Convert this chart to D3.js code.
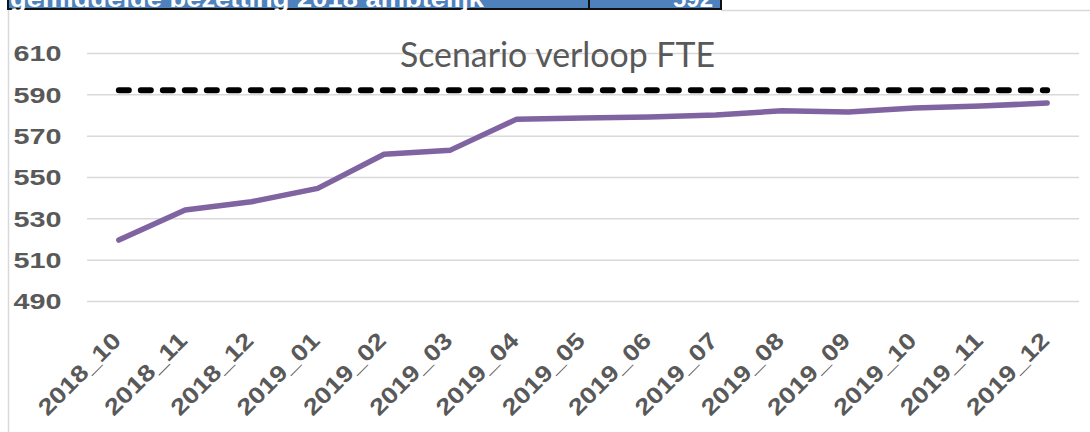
<!DOCTYPE html>
<html>
<head>
<meta charset="utf-8">
<script src="https://cdn.jsdelivr.net/npm/d3@7"></script>
<style>
  body { margin: 0; background: white; }
  svg { display: block; }
</style>
</head>
<body>
<div id="chart"></div>
<script>
// data
const months = ['2018_10', '2018_11', '2018_12', '2019_01', '2019_02', '2019_03', '2019_04',
  '2019_05', '2019_06', '2019_07', '2019_08', '2019_09', '2019_10', '2019_11', '2019_12']
const fte = [519.5, 534, 538, 544.5, 561, 563, 578, 578.6, 579, 580, 582, 581.5, 583.4, 584.3, 585.8]
const target = 592
const yTicks = [490, 510, 530, 550, 570, 590, 610]
const tableRow = ['gemiddelde bezetting 2018 ambtelijk', '592']

const W = 1090, H = 432
const plot = { left: 87, right: 1079, top: 53, bottom: 301 }

const svg = d3.select('#chart').append('svg')
  .attr('width', W)
  .attr('height', H)
  .style('background', 'white')

// chart area border
svg.append('line')
  .attr('x1', 8.5).attr('x2', 8.5).attr('y1', 10).attr('y2', H)
  .attr('stroke', '#d9d9d9').attr('stroke-width', 1.5)
svg.append('line')
  .attr('x1', 721).attr('x2', W).attr('y1', 10.5).attr('y2', 10.5)
  .attr('stroke', '#d9d9d9').attr('stroke-width', 1.5)

// table row, cut off at the top like in the source
const table = svg.append('g')
table.append('rect')
  .attr('x', 8).attr('y', -10).attr('width', 581).attr('height', 19)
  .attr('fill', '#4f81bd').attr('stroke', '#111').attr('stroke-width', 2)
table.append('rect')
  .attr('x', 589).attr('y', -10).attr('width', 132).attr('height', 19)
  .attr('fill', '#4f81bd').attr('stroke', '#111').attr('stroke-width', 2)
table.append('text')
  .attr('x', 10).attr('y', 6.5)
  .attr('font-family', 'Liberation Sans, Arial, sans-serif')
  .attr('font-weight', 'bold').attr('font-size', 24)
  .attr('fill', 'white')
  .attr('textLength', 474).attr('lengthAdjust', 'spacingAndGlyphs')
  .text(tableRow[0])
table.append('text')
  .attr('x', 713).attr('y', 6.5)
  .attr('text-anchor', 'end')
  .attr('font-family', 'Liberation Sans, Arial, sans-serif')
  .attr('font-weight', 'bold').attr('font-size', 24)
  .attr('fill', 'white')
  .text(tableRow[1])

const x = d3.scalePoint()
  .domain(months)
  .range([plot.left, plot.right])
  .padding(0.48)

const y = d3.scaleLinear()
  .domain([490, 610])
  .range([plot.bottom, plot.top])

// gridlines
svg.append('g')
  .attr('transform', `translate(${plot.left},0)`)
  .call(d3.axisLeft(y).tickValues(yTicks).tickSize(-(plot.right - plot.left)).tickFormat(''))
  .call(g => g.select('.domain').remove())
  .call(g => g.selectAll('line').attr('stroke', '#d9d9d9').attr('stroke-width', 1.5))

// y labels
svg.append('g')
  .attr('transform', `translate(${plot.left},0)`)
  .call(d3.axisLeft(y).tickValues(yTicks).tickSize(0).tickPadding(25.5))
  .call(g => g.select('.domain').remove())
  .call(g => g.selectAll('text')
    .attr('font-family', 'Liberation Sans, Arial, sans-serif')
    .attr('font-weight', 'bold')
    .attr('font-size', 22)
    .attr('fill', '#595959')
    .attr('dy', '0.36em')
    .attr('textLength', 48)
    .attr('lengthAdjust', 'spacingAndGlyphs'))

// x labels
svg.append('g')
  .call(d3.axisBottom(x).tickSize(0))
  .call(g => g.select('.domain').remove())
  .call(g => g.selectAll('text')
    .attr('font-family', 'Liberation Sans, Arial, sans-serif')
    .attr('font-weight', 'bold')
    .attr('font-size', 23)
    .attr('fill', '#595959')
    .attr('text-anchor', 'end')
    .attr('x', 0).attr('y', 0).attr('dy', 0)
    .attr('transform', 'translate(3,342) rotate(-45)')
    .attr('textLength', 106)
    .attr('lengthAdjust', 'spacingAndGlyphs'))

// title
svg.append('text')
  .attr('x', 557.5).attr('y', 67)
  .attr('text-anchor', 'middle')
  .attr('font-family', 'Lato, Open Sans, sans-serif')
  .attr('font-size', 35)
  .attr('fill', '#595959')
  .attr('textLength', 315)
  .attr('lengthAdjust', 'spacingAndGlyphs')
  .text('Scenario verloop FTE')

// target dashed line
svg.append('line')
  .attr('x1', x(months[0])).attr('x2', x(months[months.length - 1]))
  .attr('y1', y(target)).attr('y2', y(target))
  .attr('stroke', 'black')
  .attr('stroke-width', 6)
  .attr('stroke-linecap', 'round')
  .attr('stroke-dasharray', '10 12')

// FTE line
const line = d3.line()
  .x((d, i) => x(months[i]))
  .y(d => y(d))

svg.append('path')
  .datum(fte)
  .attr('d', line)
  .attr('fill', 'none')
  .attr('stroke', '#8064a2')
  .attr('stroke-width', 5.5)
  .attr('stroke-linecap', 'round')
  .attr('stroke-linejoin', 'round')
</script>
</body>
</html>
